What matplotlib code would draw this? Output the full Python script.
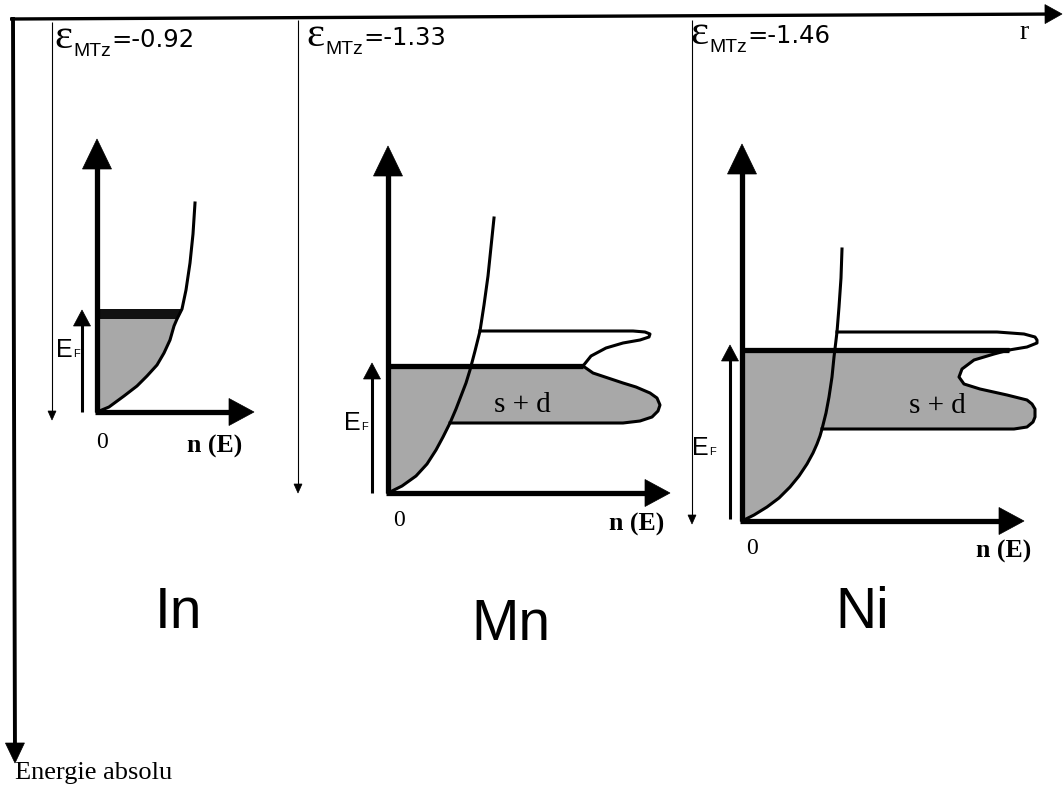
import numpy as np
import matplotlib
matplotlib.use("Agg")
import matplotlib.pyplot as plt
from matplotlib.patches import Polygon
import matplotlib.transforms as mtransforms

# ---------------- data ----------------
elements = ["In", "Mn", "Ni"]
eps_mtz = [-0.92, -1.33, -1.46]

# s-band density of states: (n(E), E) in arbitrary units
s_n = {
    "In": [0, 12, 27, 40, 50, 60, 67, 73, 77, 80, 85, 89, 93, 96, 98],
    "Mn": [0, 14, 28, 39, 48, 55, 62, 68, 73, 78, 82, 87, 92, 96, 100, 103, 106],
    "Ni": [0, 12, 25, 37, 48, 57, 65, 71, 75, 78, 80, 84, 87, 90, 92, 95, 97, 99, 100],
}
s_E = {
    "In": [0, 5, 16, 26, 36, 47, 59, 72, 86, 93, 103, 122, 149, 178, 209],
    "Mn": [0, 7, 17, 29, 43, 56, 70, 84, 97, 110, 123, 142, 162, 188, 217, 246, 275],
    "Ni": [0, 6, 14, 23, 34, 45, 57, 68, 77, 85, 92, 108, 124, 144, 164, 189, 214, 243, 272],
}
# d-band outline, occupied part (from band bottom up to Fermi level)
d_low_n = {
    "Mn": [62, 150, 235, 252, 264, 270, 272, 269, 262, 248, 235, 220, 205, 195],
    "Ni": [80, 180, 272, 285, 291, 293, 293, 290, 285, 265, 238, 222, 217, 220, 232, 252, 267],
}
d_low_E = {
    "Mn": [70, 70, 70, 72, 76, 82, 88, 95, 100, 106, 110, 115, 120, 127],
    "Ni": [92, 92, 92, 94, 99, 104, 112, 117, 121, 126, 132, 137, 144, 152, 161, 167, 171],
}
# d-band outline, empty part (from Fermi level to band top)
d_up_n = {
    "Mn": [195, 203, 218, 235, 252, 261, 262, 257, 245, 150, 92],
    "Ni": [267, 285, 295, 295, 293, 282, 255, 180, 95],
}
d_up_E = {
    "Mn": [127, 137, 145, 150, 153, 156, 159, 161, 162, 162, 162],
    "Ni": [171, 174, 178, 181, 184, 187, 189, 189, 189],
}
fermi = {"In": 103, "Mn": 127, "Ni": 171}
in_band_width = 10   # dark band just below E_F for In

# ---------------- layout ----------------
W, H = 1063, 790
origins = {"In": (97, 412), "Mn": (388, 493), "Ni": (742, 521)}
axis_len = {"In": (157, 273), "Mn": (282, 347), "Ni": (282, 377)}
ef_arrow = {"In": (-15, 0, 102), "Mn": (-16, 0, 130), "Ni": (-12, 2, 176)}
thin_arrows = {"In": (52, 22, 420), "Mn": (298, 20, 493), "Ni": (692, 20, 524)}
eps_pos = {"In": (54, 47), "Mn": (306, 45), "Ni": (690, 43)}
elem_pos = {"In": (178, 628), "Mn": (511, 640), "Ni": (862, 628)}
ef_text = {"In": (-41, 55), "Mn": (-44, 63), "Ni": (-50, 66)}
zero_pos = {"In": (5, -30), "Mn": (11, -28), "Ni": (10, -28)}
nE_pos = {"In": (118, -34), "Mn": (249, -31), "Ni": (262, -30)}
sd_pos = {"Mn": (134, 88), "Ni": (195, 115)}

SANS = ['Liberation Sans', 'DejaVu Sans']
SERIF = ['Liberation Serif', 'DejaVu Serif']
GREY = '#a8a8a8'

fig = plt.figure(figsize=(W / 100, H / 100), dpi=100)
ax = fig.add_axes([0, 0, 1, 1])
ax.set_xlim(0, W)
ax.set_ylim(H, 0)
ax.axis('off')


def arrow(x0, y0, x1, y1, lw, hl, hw, tr, z=5):
    d = np.array([x1 - x0, y1 - y0], float)
    u = d / np.hypot(*d)
    nrm = np.array([-u[1], u[0]])
    tip = np.array([x1, y1], float)
    base = tip - u * hl
    ax.plot([x0, base[0] + u[0]], [y0, base[1] + u[1]], color='k', lw=lw,
            solid_capstyle='butt', transform=tr, zorder=z)
    tri = [tip, base + nrm * hw / 2, base - nrm * hw / 2]
    ax.add_patch(Polygon(tri, closed=True, fc='k', ec='k', lw=0.5,
                         transform=tr, zorder=z))


# frame arrows
arrow(10, 19, 1062, 14, 2.4, 17, 19, ax.transData)
arrow(13, 17, 15, 763, 2.8, 20, 19, ax.transData)
ax.text(15, 779, "Energie absolu", family=SERIF, fontsize=19, ha='left', va='baseline')
ax.text(1024, 39, "r", family=SERIF, fontsize=20, ha='center', va='baseline')

renderer = fig.canvas.get_renderer()

for el, eps in zip(elements, eps_mtz):
    ox, oy = origins[el]
    tr = mtransforms.Affine2D().scale(1, -1).translate(ox, oy) + ax.transData
    sn = np.array(s_n[el], float)
    sE = np.array(s_E[el], float)
    ef = fermi[el]

    if el == "In":
        lo = ef - in_band_width
        m = sE <= lo
        xs_lo = np.interp(lo, sE, sn)
        xs_ef = np.interp(ef, sE, sn)
        poly = list(zip(sn[m], sE[m])) + [(xs_lo, lo), (0, lo)]
        ax.add_patch(Polygon(poly, closed=True, fc=GREY, ec='none', transform=tr, zorder=2))
        band = [(0, lo), (xs_lo, lo), (xs_ef, ef), (0, ef)]
        ax.add_patch(Polygon(band, closed=True, fc='#111111', ec='none', transform=tr, zorder=2))
    else:
        dln = np.array(d_low_n[el], float)
        dlE = np.array(d_low_E[el], float)
        dun = np.array(d_up_n[el], float)
        duE = np.array(d_up_E[el], float)
        m = sE < dlE[0]
        poly = list(zip(sn[m], sE[m])) + list(zip(dln, dlE)) + [(0, ef)]
        ax.add_patch(Polygon(poly, closed=True, fc=GREY, ec='none', transform=tr, zorder=2))
        ax.plot(dln, dlE, color='k', lw=2.2, transform=tr, zorder=3, solid_joinstyle='round')
        ax.plot(dun, duE, color='k', lw=2.2, transform=tr, zorder=3, solid_joinstyle='round')
        ax.plot([0, dln[-1]], [ef, ef], color='k', lw=3.8, transform=tr, zorder=4,
                solid_capstyle='butt')
        sx, sy = sd_pos[el]
        ax.text(sx, sy, "s + d", family=SERIF, fontsize=21, ha='center', va='center',
                transform=tr, zorder=6)

    # s-band curve
    ax.plot(sn, sE, color='k', lw=2.2, transform=tr, zorder=3, solid_joinstyle='round')

    # axes of the DOS plot
    lx, ly = axis_len[el]
    arrow(0, 0, 0, ly, 3.8, 30, 29, tr)
    arrow(-2, 0, lx, 0, 3.8, 25, 27, tr)

    # Fermi level arrow
    fx, f0, f1 = ef_arrow[el]
    arrow(fx, f0, fx, f1, 2.2, 16, 17, tr)
    tx, ty = ef_text[el]
    tE = ax.text(ox + tx, oy - ty, "E", family=SANS, fontsize=18, ha='left', va='baseline')
    bb = tE.get_window_extent(renderer)
    ax.text(bb.x1, oy - ty, "F", family=SANS, fontsize=8, ha='left', va='baseline')

    zx, zy = zero_pos[el]
    ax.text(ox + zx, oy - zy, "0", family=SERIF, fontsize=17, ha='center', va='center')
    nx, ny = nE_pos[el]
    ax.text(ox + nx, oy - ny, "n (E)", family=SERIF, fontsize=18.5, fontweight='bold',
            ha='center', va='center')

    # thin energy arrow
    tx0, ty0, ty1 = thin_arrows[el]
    arrow(tx0, ty0, tx0, ty1, 0.8, 9, 8, ax.transData)

    # epsilon label
    ex, ey = eps_pos[el]
    t1 = ax.text(ex, ey + 1, "ε", family=SERIF, fontsize=31, ha='left', va='baseline')
    b1 = t1.get_window_extent(renderer)
    t2 = ax.text(b1.x1 + 1, ey + 9, "MTz", family=SANS, fontsize=14, ha='left', va='baseline')
    b2 = t2.get_window_extent(renderer)
    ax.text(b2.x1 + 1, ey, "=%.2f" % eps, family=['DejaVu Sans'], fontsize=17.5,
            ha='left', va='baseline')

    # element label
    px, py = elem_pos[el]
    ax.text(px, py, el, family=SANS, fontsize=41, ha='center', va='baseline')

fig.savefig("out.png", dpi=100)
